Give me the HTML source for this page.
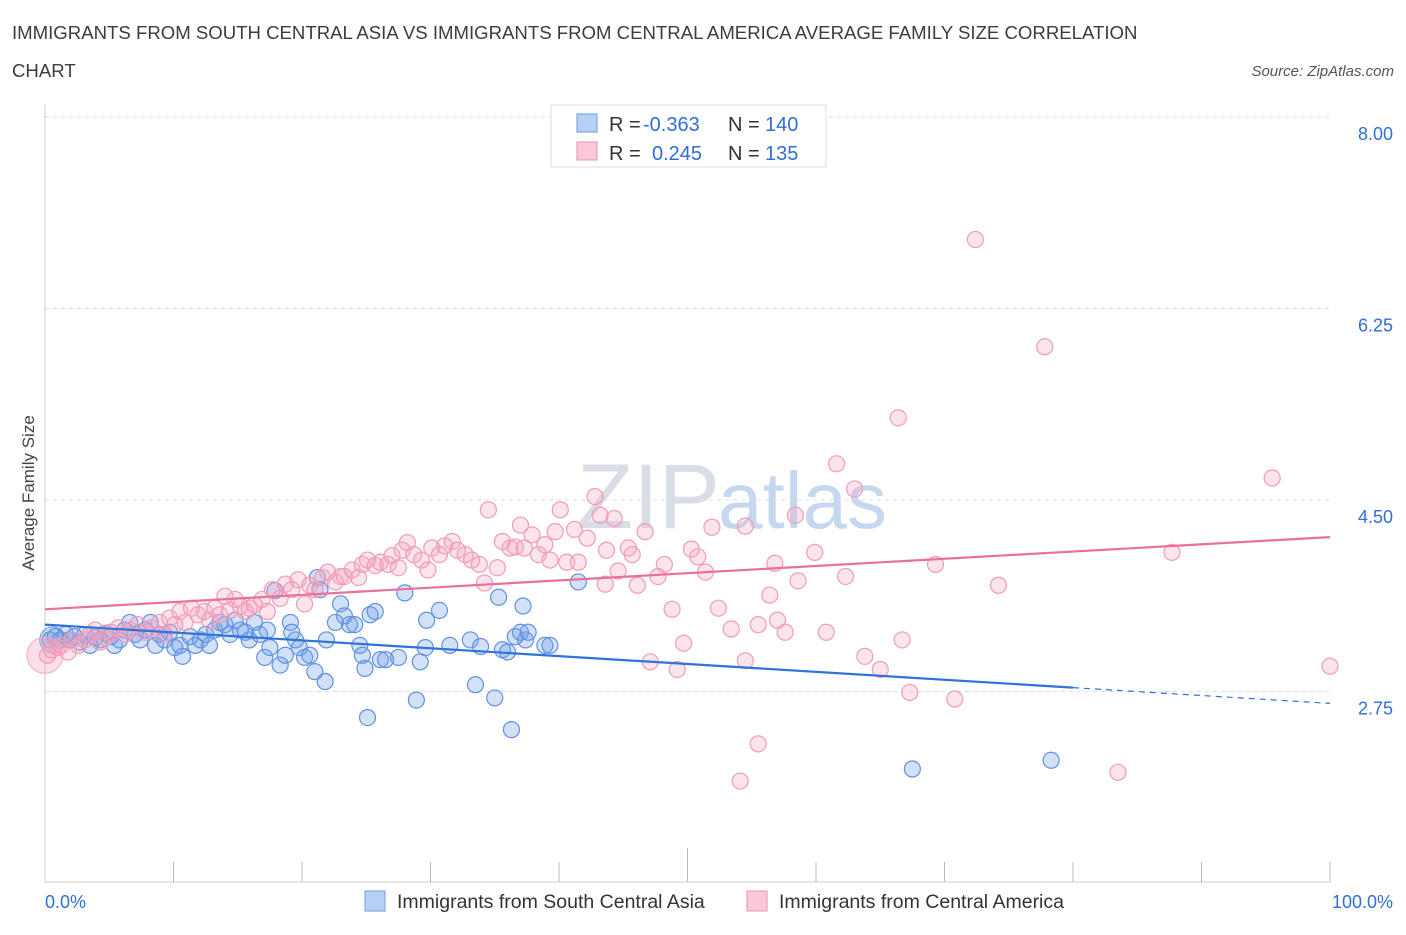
<!DOCTYPE html>
<html><head><meta charset="utf-8">
<style>
body{margin:0;background:#fff;font-family:"Liberation Sans",sans-serif;}
svg text{font-family:"Liberation Sans",sans-serif;}
</style></head>
<body>
<svg id="chart" width="1406" height="930" xmlns="http://www.w3.org/2000/svg">
<text x="12" y="39" font-size="18.6" fill="#3c3c3c">IMMIGRANTS FROM SOUTH CENTRAL ASIA VS IMMIGRANTS FROM CENTRAL AMERICA AVERAGE FAMILY SIZE CORRELATION</text>
<text x="12" y="77" font-size="18.6" fill="#3c3c3c">CHART</text>
<text x="1394" y="76" font-size="15" font-style="italic" fill="#555" text-anchor="end">Source: ZipAtlas.com</text>
<text x="720" y="528" font-size="92" fill="#d8dde6" text-anchor="end" font-family="Liberation Serif">ZIP</text>
<text x="718" y="528" font-size="80" fill="#c6d8f0">atlas</text>
<g id="grid"></g>
<g id="axes"></g>
<g id="blue"></g>
<g id="pink"></g>
<g id="trends"></g>
<text transform="translate(34,493) rotate(-90)" font-size="17" fill="#444" text-anchor="middle">Average Family Size</text>
<g>
<rect x="551" y="105" width="275" height="62" fill="#fff" stroke="#ddd"/>
<rect x="577" y="114" width="20" height="18" fill="#b9d0f5" stroke="#6d9be4"/>
<rect x="577" y="142" width="20" height="18" fill="#f9c9d8" stroke="#f08fb0"/>
<text x="609" y="131" font-size="20" fill="#333">R =</text>
<text x="643" y="131" font-size="20" fill="#2f6fd6">-0.363</text>
<text x="728" y="131" font-size="20" fill="#333">N =</text>
<text x="765" y="131" font-size="20" fill="#2f6fd6">140</text>
<text x="609" y="160" font-size="20" fill="#333">R =</text>
<text x="652" y="160" font-size="20" fill="#2f6fd6">0.245</text>
<text x="728" y="160" font-size="20" fill="#333">N =</text>
<text x="765" y="160" font-size="20" fill="#2f6fd6">135</text>
</g>
<g>
<rect x="365" y="891" width="20" height="20" fill="#b9d0f5" stroke="#6d9be4"/>
<text x="397" y="908" font-size="19.5" fill="#333">Immigrants from South Central Asia</text>
<rect x="747" y="891" width="20" height="20" fill="#f9c9d8" stroke="#f08fb0"/>
<text x="779" y="908" font-size="19.5" fill="#333">Immigrants from Central America</text>
</g>
</svg>
<script>
const yTicks=[8.00,6.25,4.50,2.75];
const yTickLabels=["8.00","6.25","4.50","2.75"];
const xTickLabels=["0.0%","100.0%"];
const blueX=[0.4,0.8,1.2,1.6,1.9,2.3,2.7,3.1,3.5,3.9,4.3,4.7,5.1,5.4,5.8,6.2,6.6,7.0,7.4,7.8,8.2,8.6,8.9,9.3,9.7,10.1,10.5,10.7,11.3,11.7,12.1,12.5,12.8,13.2,13.6,14.0,14.4,14.8,15.2,15.6,15.9,16.3,16.7,17.1,17.3,17.5,17.9,18.3,18.7,19.1,19.2,19.5,19.8,20.2,20.6,21.0,21.2,21.4,21.8,21.9,22.6,23.0,23.3,23.7,24.1,24.5,24.7,24.9,25.1,25.3,25.7,26.1,26.5,27.5,28.0,28.9,29.2,29.6,29.7,30.7,31.5,33.1,33.5,33.9,35.0,35.3,35.6,36.0,36.3,36.6,37.0,37.2,37.4,37.6,38.9,39.3,41.5,67.5,78.3];
const blueY=[3.22,3.25,3.22,3.27,3.22,3.25,3.20,3.27,3.17,3.24,3.22,3.28,3.25,3.17,3.22,3.31,3.38,3.27,3.22,3.31,3.38,3.17,3.27,3.22,3.29,3.15,3.17,3.07,3.25,3.17,3.22,3.27,3.17,3.31,3.38,3.36,3.27,3.40,3.31,3.29,3.22,3.38,3.27,3.06,3.31,3.15,3.67,2.99,3.08,3.38,3.29,3.22,3.15,3.06,3.08,2.93,3.79,3.68,2.84,3.22,3.38,3.55,3.44,3.36,3.36,3.17,3.08,2.96,2.51,3.45,3.48,3.04,3.04,3.06,3.65,2.67,3.02,3.15,3.40,3.49,3.17,3.22,2.81,3.16,2.69,3.61,3.13,3.11,2.40,3.25,3.29,3.53,3.22,3.29,3.17,3.17,3.75,2.04,2.12];
const pinkX=[0.2,0.5,1.0,1.3,1.8,2.1,2.6,3.1,3.5,3.9,4.3,4.7,5.1,5.7,6.2,6.6,7.2,7.8,8.3,8.9,9.3,9.7,10.1,10.5,10.9,11.4,11.9,12.4,12.8,13.2,13.6,14.0,14.4,14.8,15.2,15.6,15.9,16.3,16.9,17.3,17.7,18.3,18.7,19.2,19.7,20.2,20.6,21.0,21.6,22.0,22.6,23.0,23.3,23.9,24.4,24.7,25.1,25.7,26.1,26.7,27.0,27.5,27.8,28.2,28.7,29.3,29.8,30.1,30.7,31.1,31.7,32.1,32.7,33.2,33.8,34.2,34.5,35.2,35.6,36.2,36.6,37.0,37.3,37.9,38.4,38.9,39.3,39.7,40.1,40.6,41.2,41.5,42.2,42.8,43.2,43.6,43.7,44.3,44.6,45.4,45.7,46.1,46.7,47.1,47.7,48.2,48.8,49.2,49.7,50.3,50.8,51.4,51.9,52.4,53.4,54.5,54.5,55.5,55.5,56.4,56.8,57.0,57.6,58.4,58.6,59.9,60.8,61.6,62.3,63.0,63.8,65.0,66.4,66.7,67.3,69.3,70.8,72.4,74.2,77.8,83.5,87.7,95.5,100.0,54.1];
const pinkY=[3.08,3.13,3.15,3.17,3.11,3.22,3.17,3.22,3.27,3.31,3.20,3.24,3.29,3.33,3.27,3.31,3.36,3.29,3.33,3.38,3.27,3.42,3.36,3.48,3.38,3.51,3.45,3.48,3.40,3.51,3.45,3.62,3.49,3.59,3.53,3.48,3.51,3.54,3.59,3.48,3.68,3.60,3.73,3.68,3.77,3.55,3.72,3.68,3.79,3.84,3.75,3.80,3.80,3.86,3.79,3.91,3.95,3.90,3.93,3.91,3.99,3.88,4.04,4.11,4.00,3.95,3.86,4.06,4.00,4.08,4.12,4.04,4.00,3.95,3.91,3.74,4.41,3.88,4.12,4.06,4.07,4.27,4.06,4.18,4.00,4.09,3.95,4.21,4.41,3.93,4.23,3.93,4.15,4.53,4.36,3.73,4.04,4.33,3.85,4.06,4.00,3.72,4.21,3.02,3.80,3.91,3.50,2.95,3.19,4.05,3.98,3.84,4.25,3.51,3.32,4.26,3.03,3.36,2.27,3.63,3.92,3.40,3.29,4.36,3.76,4.02,3.29,4.83,3.80,4.60,3.07,2.95,5.25,3.22,2.74,3.91,2.68,6.88,3.72,5.90,2.01,4.02,4.70,2.98,1.93];
const blueTrend=[3.36,2.64];
const pinkTrend=[3.50,4.16];

const NS="http://www.w3.org/2000/svg";
const X0=45,X1=1330,Y8=117,PPU=109.4;
const xs=p=>X0+(X1-X0)*p/100;
const ys=v=>Y8+(8-v)*PPU;
function mk(tag,attrs,parent){const e=document.createElementNS(NS,tag);for(const k in attrs)e.setAttribute(k,attrs[k]);parent.appendChild(e);return e;}
const grid=document.getElementById('grid'),axes=document.getElementById('axes');
yTicks.forEach((t,i)=>{
  const l=mk('line',{x1:45,x2:1330,y1:ys(t),y2:ys(t),stroke:'#ddd','stroke-dasharray':'4,4'},grid);
  
  
  const tx=mk('text',{x:1393,y:ys(t)+23,'font-size':18,fill:'#2f6fd6','text-anchor':'end'},axes);
  tx.textContent=yTickLabels[i];
  
  
});
const xl=mk('line',{x1:45,x2:1330,y1:882,y2:882,stroke:'#ccc'},axes);


const yl=mk('line',{x1:45,x2:45,y1:105,y2:882,stroke:'#ccc'},axes);


for(let i=1;i<=10;i++){
  const t=mk('line',{x1:xs(i*10),x2:xs(i*10),y1:i==5?848:862,y2:882,stroke:'#bbb'},axes);
  
  
}
const xa=mk('text',{x:45,y:908,'font-size':18,fill:'#2f6fd6'},axes);xa.textContent=xTickLabels[0];


const xb=mk('text',{x:1393,y:908,'font-size':18,fill:'#2f6fd6','text-anchor':'end'},axes);xb.textContent=xTickLabels[1];



function dots(X,Y,g,fill,stroke,nm){
  X.forEach((x,i)=>{
    const c=mk('circle',{cx:xs(x),cy:ys(Y[i]),r:8,fill:fill,stroke:stroke,'stroke-width':1.2},g);
    
    
  });
}
const bg=document.getElementById('blue'),pg=document.getElementById('pink');
const big=mk('circle',{cx:xs(0),cy:ys(3.08),r:18,fill:'rgba(245,160,190,0.35)',stroke:'#f4a8c0'},pg);


const bigb=mk('circle',{cx:xs(0.6),cy:ys(3.22),r:13,fill:'rgba(110,155,230,0.35)',stroke:'#6d9be4'},bg);


dots(pinkX,pinkY,pg,'rgba(245,165,192,0.3)','#f19bb8','pink-point');
dots(blueX,blueY,bg,'rgba(110,155,230,0.3)','#5f92e2','blue-point');

const tg=document.getElementById('trends');
const bAt=p=>blueTrend[0]+(blueTrend[1]-blueTrend[0])*p/100;
const pAt=p=>pinkTrend[0]+(pinkTrend[1]-pinkTrend[0])*p/100;
const b1=mk('line',{x1:xs(0),y1:ys(bAt(0)),x2:xs(80),y2:ys(bAt(80)),stroke:'#2f72d8','stroke-width':2.2},tg);


const b2=mk('line',{x1:xs(80),y1:ys(bAt(80)),x2:xs(100),y2:ys(bAt(100)),stroke:'#2f72d8','stroke-width':1.2,'stroke-dasharray':'6,5'},tg);


const p1=mk('line',{x1:xs(0),y1:ys(pAt(0)),x2:xs(100),y2:ys(pAt(100)),stroke:'#e8709a','stroke-width':2.2},tg);


</script>
</body></html>
